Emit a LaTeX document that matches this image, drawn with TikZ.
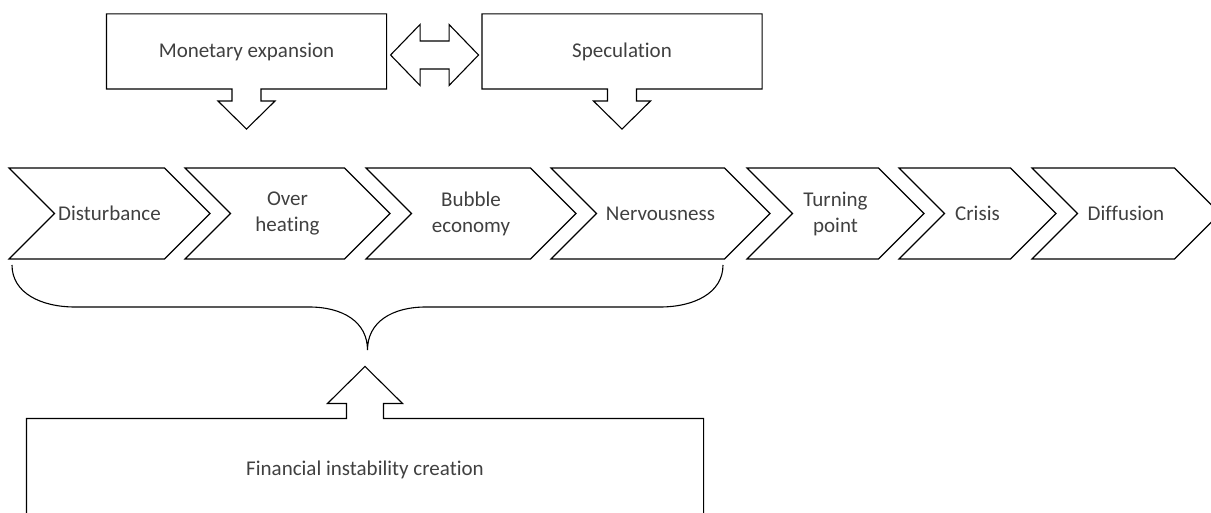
\documentclass[tikz,border=0pt]{standalone}
\usepackage{fontspec}
\setmainfont{Carlito}[Ligatures=NoCommon]
\usetikzlibrary{shapes.symbols}

\definecolor{txtgray}{RGB}{64,64,64}

\begin{document}
\begin{tikzpicture}[x=1pt,y=1pt,line width=1.1pt,
  phase/.style={signal,signal from=west,signal to=east,draw,minimum height=91,
    inner sep=0,align=center,text=txtgray,font=\fontsize{21}{26}\selectfont},
  box node/.style={rectangle,minimum width=279,minimum height=74,inner sep=0,
    text=txtgray,font=\fontsize{21}{26}\selectfont}]

 \useasboundingbox (0,0) rectangle (1211,512);
 \clip (0,0) rectangle (1211,512);

 % top boxes
 \node[box node] (money) at (246.5,460.5) {Monetary expansion};
 \node[box node] (spec) at (622,460.5) {Speculation};

 % phases
 \node[phase,minimum width=201] (dist) at (109.5,298.5) {Disturbance};
 \node[phase,minimum width=205] (heat) at (287.5,298.5) {Over\\heating};
 \node[phase,minimum width=210] (bubble) at (471,298.5) {Bubble\\economy};
 \node[phase,minimum width=219] (nerv) at (660.5,298.5) {Nervousness};
 \node[phase,minimum width=177] (turn) at (835.5,298.5) {Turning\\point};
 \node[phase,minimum width=157] (crisis) at (977.5,298.5) {Crisis};
 \node[phase,minimum width=188] (diff) at (1126,298.5) {Diffusion};

 % bottom box
 \node[box node,minimum width=676,minimum height=102] (fin) at (365,42) {Financial instability creation};

 \foreach \n in {money,spec}
  \draw (\n.south east) -- (\n.north east) -- (\n.north west) -- (\n.south west)
    -- ([xshift=-14.5]\n.south) -- ++(0,-12) -- ++(-14,0) -- ++(28.5,-28)
    -- ++(28.5,28) -- ++(-14,0) -- ++(0,12) -- cycle;

 \draw ([shift={(4,-3.5)}]money.east) -- ++(29.5,30.5) -- ++(0,-16.5) -- ++(29,0)
    -- ++(0,16.5) -- ++(29.5,-30.5) -- ++(-29.5,-30.5) -- ++(0,16.5) -- ++(-29,0)
    -- ++(0,-16.5) -- cycle;

 \draw (fin.north west) -- ([xshift=-18.5]fin.north) -- ++(0,15) -- ++(-19,0)
    -- ++(37.5,37) -- ++(37.5,-37) -- ++(-19,0) -- ++(0,-15) -- (fin.north east)
    -- (fin.south east) -- (fin.south west) -- cycle;

 % brace
 \coordinate (bl) at (12,247);
 \coordinate (br) at (723,247);
 \draw (bl) .. controls +(0,-28) and +(-34,0) .. ++(63,-42) -- ++(234,0)
    .. controls +(34,0) and +(0,28) .. ++(58.5,-43)
    .. controls +(0,28) and +(-34,0) .. ++(58.5,43) -- ++(234,0)
    .. controls +(34,0) and +(0,-28) .. (br);

\end{tikzpicture}
\end{document}
